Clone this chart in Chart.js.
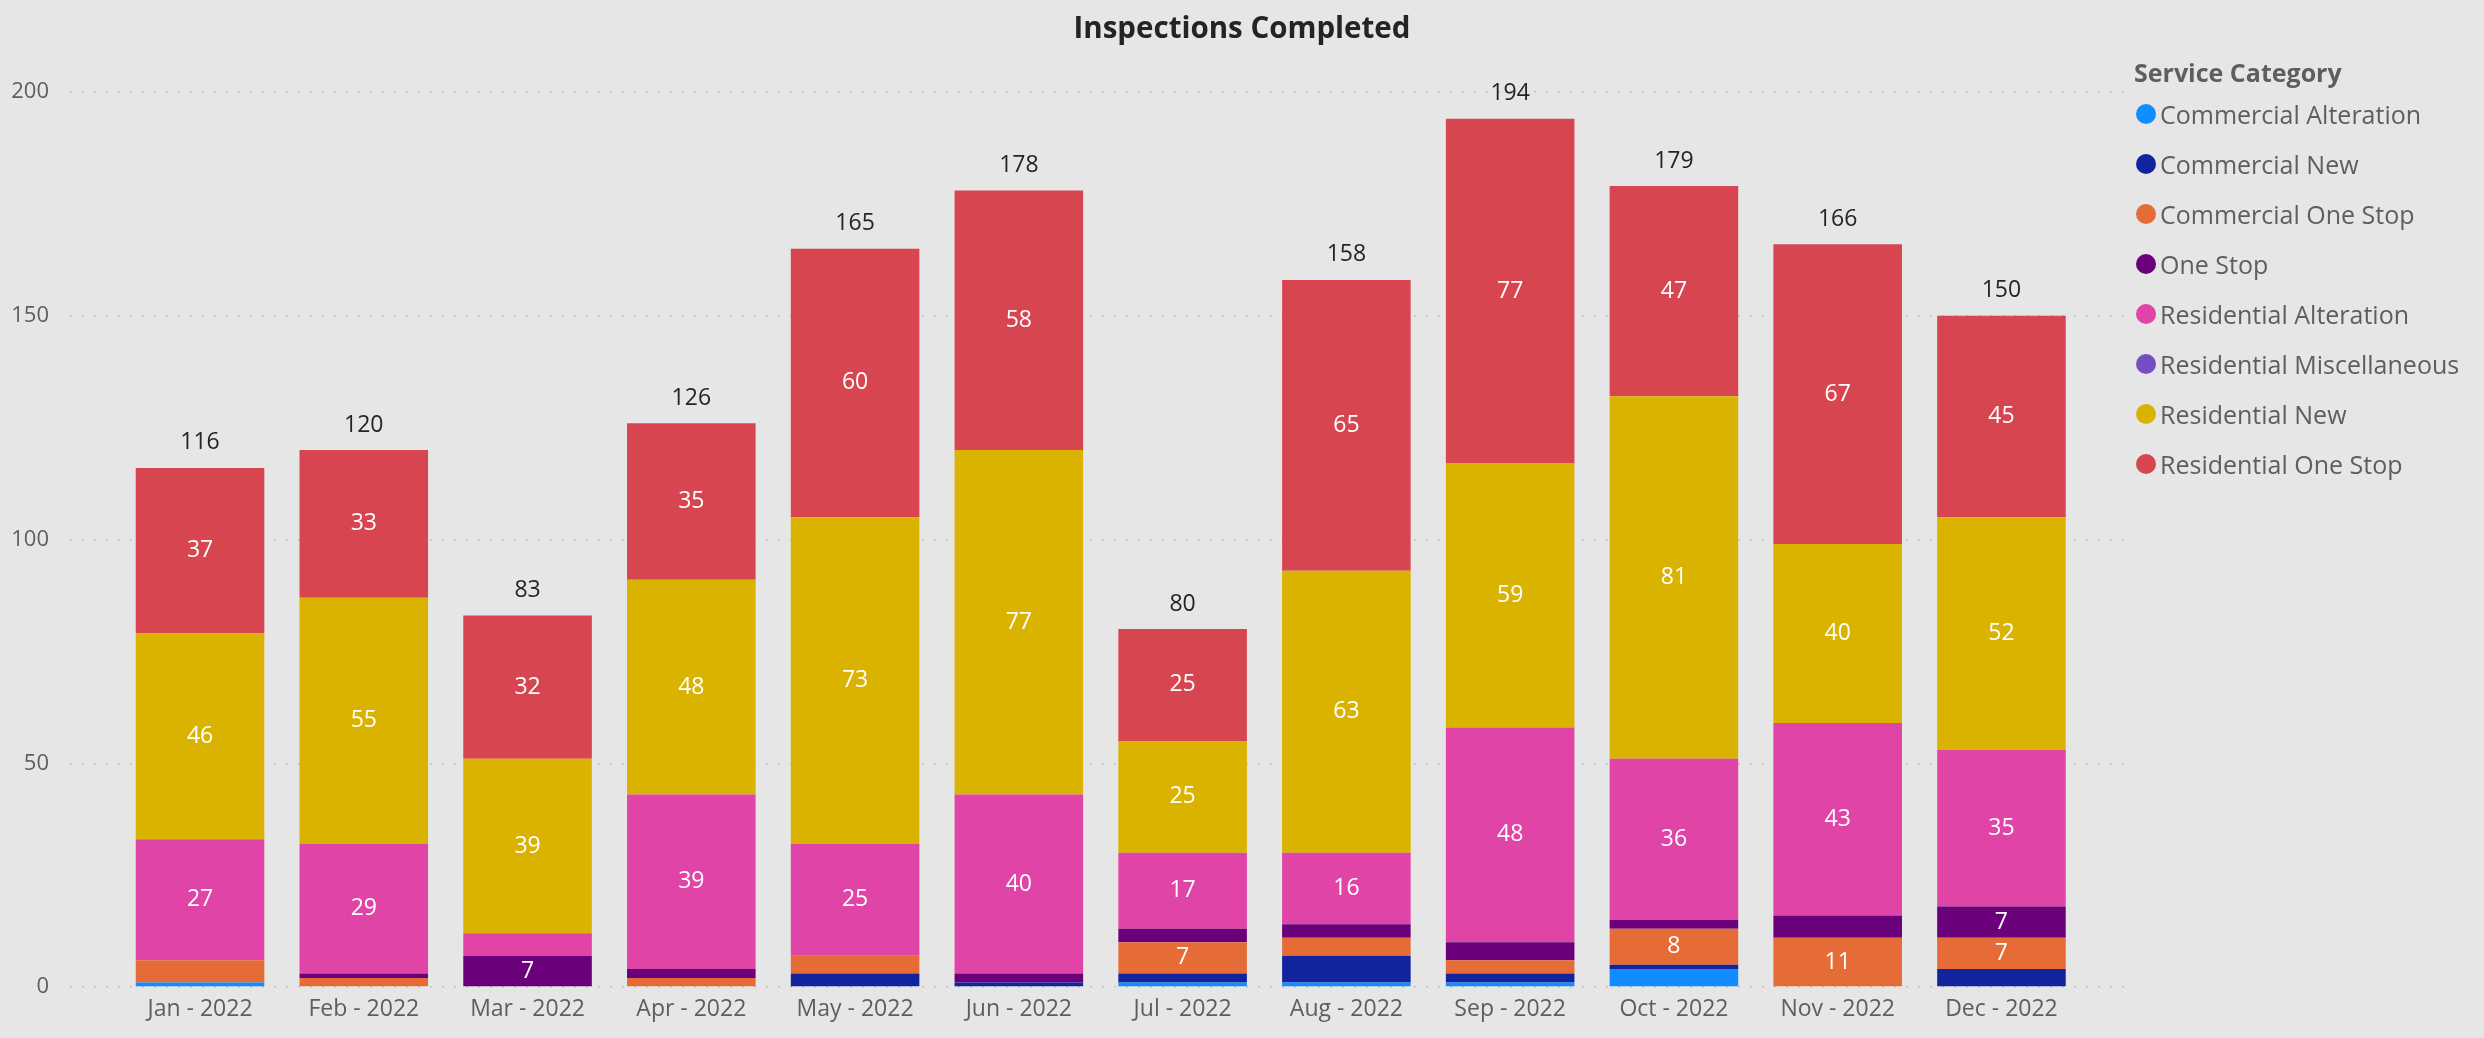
<!DOCTYPE html>
<html>
<head>
<meta charset="utf-8">
<title>Inspections Completed</title>
<script src="https://cdn.jsdelivr.net/npm/chart.js@4.4.1/dist/chart.umd.min.js"></script>
<style>
    body { margin: 0; background: #e6e6e6; font-family: "Segoe UI", "Open Sans", sans-serif; }
    #wrap { position: relative; width: 2484px; height: 1038px; overflow: hidden; }
    #chart-title { position: absolute; left: 0; top: 7px; width: 2484px; line-height: 40px; text-align: center; font-size: 29.5px; font-weight: 700; color: #252423; }
    #legend { position: absolute; left: 2136px; top: 56px; color: #605e5c; font-size: 25px; }
    #legend .legend-title { font-weight: 700; line-height: 32px; margin-bottom: 1px; margin-left: -2px; }
    #legend .legend-item { display: flex; align-items: center; height: 50px; }
    #legend .dot { width: 20px; height: 20px; border-radius: 50%; margin-right: 4px; flex: none; }
</style>
</head>
<body>
<div id="wrap">
    <div id="chart-title">Inspections Completed</div>
    <canvas id="inspections-chart" width="2484" height="1038"></canvas>
    <div id="legend"></div>
</div>
<script>
// Months on the category axis
const months = ['Jan - 2022', 'Feb - 2022', 'Mar - 2022', 'Apr - 2022', 'May - 2022', 'Jun - 2022',
    'Jul - 2022', 'Aug - 2022', 'Sep - 2022', 'Oct - 2022', 'Nov - 2022', 'Dec - 2022'];

// Inspections per service category, one value per month
const commercialAlteration = [1, 0, 0, 0, 0, 0, 1, 1, 1, 4, 0, 0];
const commercialNew = [0, 0, 0, 0, 3, 1, 2, 6, 2, 1, 0, 4];
const commercialOneStop = [5, 2, 0, 2, 4, 0, 7, 4, 3, 8, 11, 7];
const oneStop = [0, 1, 7, 2, 0, 2, 3, 3, 4, 2, 5, 7];
const residentialAlteration = [27, 29, 5, 39, 25, 40, 17, 16, 48, 36, 43, 35];
const residentialMiscellaneous = [0, 0, 0, 0, 0, 0, 0, 0, 0, 0, 0, 0];
const residentialNew = [46, 55, 39, 48, 73, 77, 25, 63, 59, 81, 40, 52];
const residentialOneStop = [37, 33, 32, 35, 60, 58, 25, 65, 77, 47, 67, 45];

const yTicks = [0, 50, 100, 150, 200];

const seriesNames = ['Commercial Alteration', 'Commercial New', 'Commercial One Stop', 'One Stop',
    'Residential Alteration', 'Residential Miscellaneous', 'Residential New', 'Residential One Stop'];
const seriesValues = [commercialAlteration, commercialNew, commercialOneStop, oneStop,
    residentialAlteration, residentialMiscellaneous, residentialNew, residentialOneStop];
const seriesColors = ['#118DFF', '#12239E', '#E66C37', '#6B007B', '#E044A7', '#744EC2', '#D9B300', '#D64550'];

const TEXT_GREY = '#605e5c';
const FONT = '"Segoe UI", "Open Sans", sans-serif';

// Month totals for the labels above each bar
const monthTotals = months.map((m, i) => seriesValues.reduce((sum, s) => sum + s[i], 0));

// Legend (HTML, to the right of the plot)
const legendEl = document.getElementById('legend');
legendEl.innerHTML = '<div class="legend-title">Service Category</div>' + seriesNames.map((name, i) =>
    `<div class="legend-item"><span class="dot" style="background:${seriesColors[i]}"></span>${name}</div>`
).join('');

// Segment values + totals written onto the bars
const barLabels = {
    id: 'barLabels',
    afterDatasetsDraw(chart) {
        const ctx = chart.ctx;
        ctx.save();
        ctx.textAlign = 'center';
        ctx.textBaseline = 'middle';
        ctx.font = `23px ${FONT}`;
        ctx.fillStyle = '#ffffff';
        chart.data.datasets.forEach((ds, di) => {
            const meta = chart.getDatasetMeta(di);
            meta.data.forEach((bar, i) => {
                const v = ds.data[i].y;
                if (v < 7) return; // too thin to hold a label
                ctx.fillText(String(v), bar.x, (bar.y + bar.base) / 2);
            });
        });

        ctx.fillStyle = '#252423';
        monthTotals.forEach((total, i) => {
            const x = chart.scales.x.getPixelForValue(i);
            const y = chart.scales.y.getPixelForValue(total);
            ctx.fillText(String(total), x, y - 25);
        });
        ctx.restore();
    }
};

const datasets = seriesNames.map((name, si) => ({
    label: name,
    data: seriesValues[si].map((v, i) => ({ x: i, y: v })),
    backgroundColor: seriesColors[si],
    borderWidth: 0,
    categoryPercentage: 1,
    barPercentage: 0.785
}));

new Chart(document.getElementById('inspections-chart'), {
    type: 'bar',
    data: { datasets: datasets },
    options: {
        responsive: false,
        animation: false,
        layout: { padding: { top: 92, right: 354, bottom: 0, left: 0 } },
        plugins: {
            legend: { display: false },
            title: { display: false },
            tooltip: { enabled: false }
        },
        scales: {
            x: {
                type: 'linear',
                stacked: true,
                offset: false,
                min: -0.794,
                max: 11.785,
                afterFit(scale) { scale.height = 51; },
                afterBuildTicks(scale) {
                    scale.ticks = months.map((m, i) => ({ value: i }));
                },
                grid: { display: false, drawTicks: false },
                border: { display: false },
                ticks: {
                    padding: 9,
                    color: TEXT_GREY,
                    font: { family: FONT, size: 23 },
                    autoSkip: false,
                    maxRotation: 0,
                    callback: (value) => months[value]
                }
            },
            y: {
                stacked: true,
                min: 0,
                max: 200,
                afterFit(scale) { scale.width = 70; },
                afterBuildTicks(scale) {
                    scale.ticks = yTicks.map(v => ({ value: v }));
                },
                grid: {
                    color: '#c2c2c2',
                    lineWidth: 1.5,
                    drawTicks: false
                },
                border: { display: false, dash: [2, 10] },
                ticks: {
                    padding: 21,
                    color: TEXT_GREY,
                    font: { family: FONT, size: 22 }
                }
            }
        }
    },
    plugins: [barLabels]
});
</script>
</body>
</html>
